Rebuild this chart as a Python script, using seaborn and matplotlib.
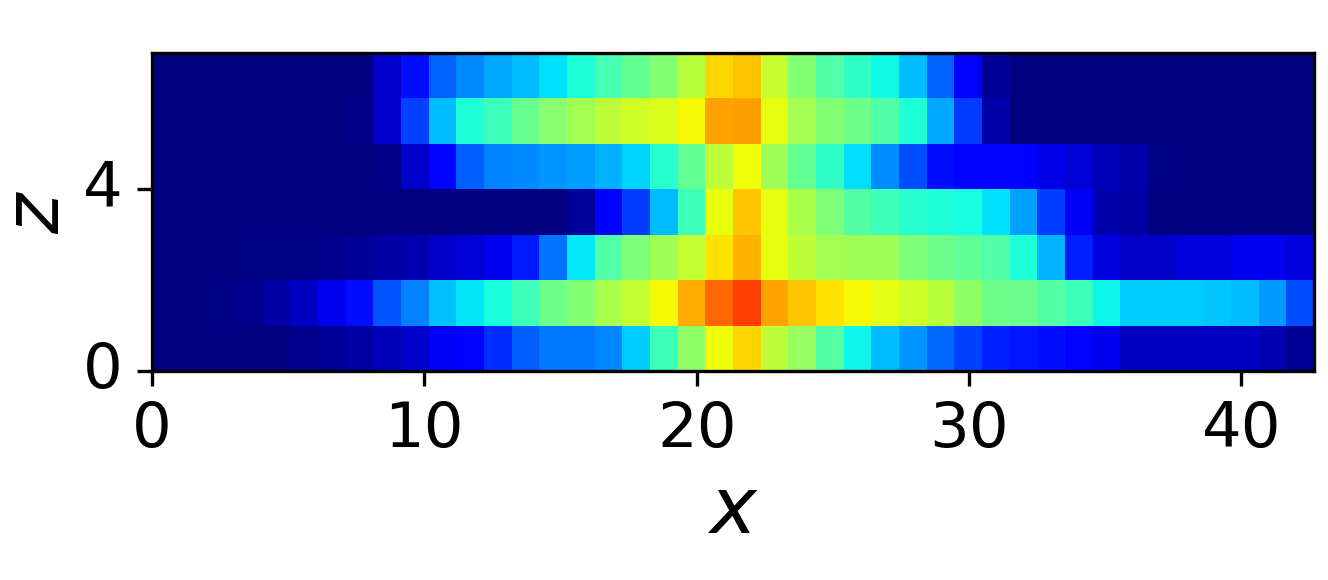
import numpy as np
import seaborn as sns
import matplotlib
matplotlib.use("Agg")
import matplotlib.pyplot as plt

# rows listed top to bottom as in the picture
row_6 = [0, 0, 0, 0, 0, 0, 0, 0, .07, .14, .22, .26, .29, .31, .345, .39, .435, .47, .508, .575, .68,
         .70, .593, .508, .447, .41, .37, .31, .22, .115, .02, 0, 0, 0, 0, 0, 0, 0, 0, 0, 0, 0]
row_5 = [0, 0, 0, 0, 0, 0, 0, .01, .07, .19, .31, .39, .423, .475, .515, .55, .58, .60, .617, .648, .735,
         .74, .63, .55, .508, .484, .447, .387, .29, .18, .04, 0, 0, 0, 0, 0, 0, 0, 0, 0, 0, 0]
row_4 = [0, 0, 0, 0, 0, 0, 0, 0, .01, .065, .13, .215, .25, .26, .27, .28, .30, .335, .40, .47, .58,
         .64, .544, .47, .41, .34, .265, .20, .14, .12, .115, .11, .09, .075, .05, .04, .005, 0, 0, 0, 0, 0]
row_3 = [0, 0, 0, 0, 0, 0, 0, 0, 0, 0, 0, 0, 0, 0, 0, .025, .115, .185, .31, .423, .63,
         .70, .63, .557, .50, .453, .423, .40, .39, .375, .345, .285, .185, .105, .04, .035, 0, 0, 0, 0, 0, 0]
row_2 = [0, 0, 0, .005, .005, .005, .012, .02, .035, .045, .065, .075, .10, .15, .24, .355, .447, .50, .544, .587, .67,
         .72, .63, .58, .55, .544, .544, .50, .484, .465, .447, .387, .30, .155, .085, .065, .065, .08, .08, .10, .10, .085]
row_1 = [0, 0, .005, .015, .035, .06, .10, .14, .21, .25, .315, .35, .38, .423, .484, .508, .557, .587, .645, .73, .80,
         .84, .735, .70, .67, .645, .625, .60, .575, .526, .484, .478, .453, .423, .365, .325, .325, .325, .32, .31, .275, .20]
row_0 = [0, 0, 0, 0, 0, .012, .02, .035, .05, .07, .105, .12, .17, .215, .245, .245, .26, .325, .423, .526, .64,
         .68, .58, .532, .453, .365, .31, .27, .23, .19, .16, .145, .14, .12, .10, .06, .06, .06, .06, .06, .045, .02]

x_ticks = [0, 10, 20, 30, 40]
z_ticks = [0, 4]
x_max = 42.67
z_max = 7

grid = np.array([row_6, row_5, row_4, row_3, row_2, row_1, row_0])
x_step = x_max / grid.shape[1]

fig, ax = plt.subplots(figsize=(1328 / 300, 580 / 300), dpi=300)
sns.heatmap(grid, cmap="jet", vmin=0, vmax=1, cbar=False, ax=ax)

for spine in ax.spines.values():
    spine.set_visible(True)
    spine.set_linewidth(0.8)

ax.set_xticks([t / x_step for t in x_ticks])
ax.set_xticklabels(x_ticks, rotation=0)
ax.set_yticks([z_max - t for t in z_ticks])
ax.set_yticklabels(z_ticks, rotation=0)
ax.tick_params(labelsize=15, length=3.5, width=0.8, pad=3.5)
ax.set_xlabel("$x$", fontsize=19, labelpad=3)
ax.set_ylabel("$z$", fontsize=18.5, labelpad=2)

fig.subplots_adjust(left=152 / 1328, right=1314 / 1328, top=1 - 53 / 580, bottom=1 - 371 / 580)
fig.savefig("out.png", dpi=300)
